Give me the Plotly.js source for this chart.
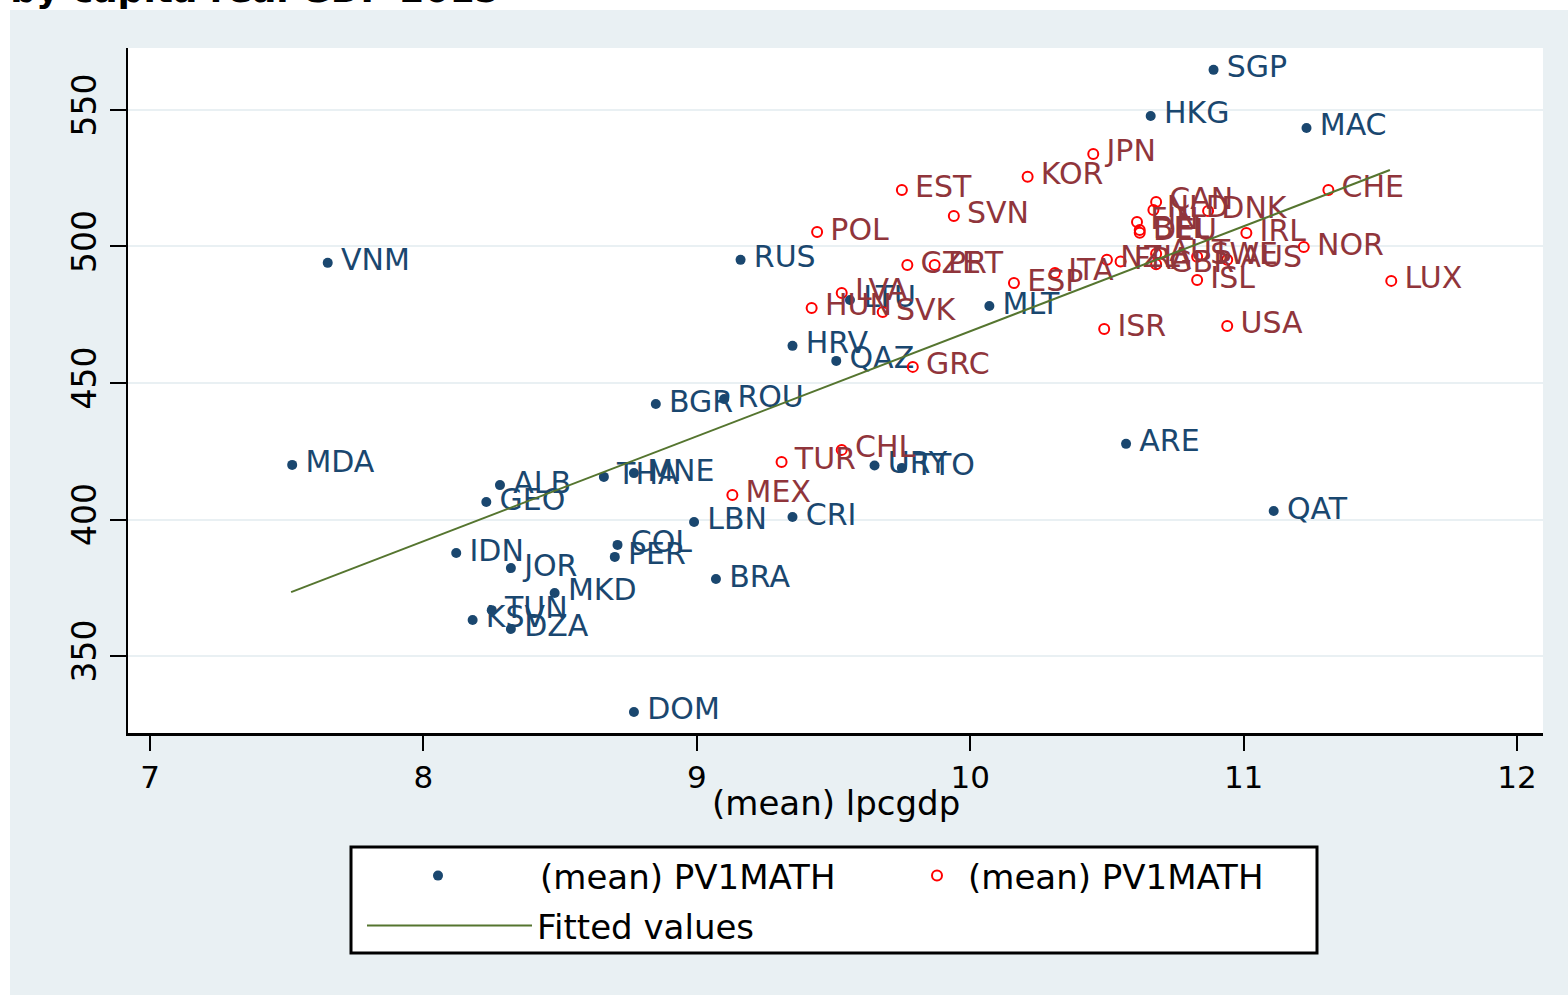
<!DOCTYPE html>
<html>
<head>
<meta charset="utf-8">
<script src="https://cdn.plot.ly/plotly-3.0.1.min.js"></script>
<style>
  html, body { margin: 0; padding: 0; background: #ffffff; }
  #chart { width: 1568px; height: 995px; }
</style>
</head>
<body>
<div id="chart"></div>
<script>
// ---- data ----
const nonOecdCodes = ["SGP","HKG","MAC","VNM","RUS","LTU","MLT","HRV","QAZ","ROU","BGR","ARE","MDA","URY","TTO","MNE","THA","ALB","GEO","QAT","CRI","LBN","COL","IDN","PER","JOR","BRA","MKD","TUN","KSV","DZA","DOM"];
const nonOecdLnGdp = [10.89,10.66,11.23,7.65,9.16,9.56,10.07,9.35,9.51,9.10,8.85,10.57,7.52,9.65,9.75,8.77,8.66,8.28,8.23,11.11,9.35,8.99,8.71,8.12,8.70,8.32,9.07,8.48,8.25,8.18,8.32,8.77];
const nonOecdMath  = [564.7,547.8,543.4,494.0,495.1,480.4,478.2,463.6,458.1,444.1,442.3,427.7,420.0,419.8,418.9,417.0,415.6,412.6,406.4,403.1,400.9,399.1,390.7,387.7,386.3,382.2,378.2,373.1,366.8,363.2,359.9,329.5];

const oecdCodes = ["JPN","KOR","CHE","EST","CAN","NLD","DNK","FIN","BEL","DEU","SVN","POL","IRL","NOR","AUT","SWE","NZL","AUS","FRA","GBR","CZE","PRT","ITA","ISL","ESP","LUX","LVA","HUN","SVK","ISR","USA","GRC","CHL","TUR","MEX"];
const oecdLnGdp = [10.45,10.21,11.31,9.75,10.68,10.67,10.87,10.61,10.62,10.62,9.94,9.44,11.01,11.22,10.68,10.83,10.50,10.94,10.55,10.68,9.77,9.87,10.31,10.83,10.16,11.54,9.53,9.42,9.68,10.49,10.94,9.79,9.53,9.31,9.13];
const oecdMath  = [533.9,525.5,520.7,520.7,516.3,513.4,513.0,509.0,506.0,505.0,511.2,505.3,504.9,499.8,497.3,496.2,495.1,495.1,494.5,493.5,493.2,493.2,490.3,487.7,486.6,487.4,483.0,477.5,476.0,469.8,470.9,455.9,425.5,421.1,409.0];

const fitX = [7.516, 11.535];
const fitY = [373.4, 528.0];

const xTickVals = [7, 8, 9, 10, 11, 12];
const yTickVals = [350, 400, 450, 500, 550];

const seriesNames = ["(mean) PV1MATH", "(mean) PV1MATH", "Fitted values"];
const xTitle = "(mean) lpcgdp";
const topTitle = "PISA 2015 math score by capita real GDP 2015";

// ---- geometry helpers (pixel -> paper) ----
const W = 1568, H = 995;
const L = 128, R = 25, T = 48, B = 262;
const pw = W - L - R, ph = H - T - B;
const px = x => (x - L) / pw;
const py = y => (H - B - y) / ph;

const NAVY = "#1a476f", RED = "#ff0000", MAROON = "#90353b", GREEN = "#55752f";
const BG = "#e9f0f3", GRID = "#e9f0f3";
const FONT = "DejaVu Sans";

const traces = [
  {
    type: "scatter", mode: "markers+text",
    x: nonOecdLnGdp, y: nonOecdMath, text: nonOecdCodes,
    texttemplate: "\u2009%{text}",
    name: seriesNames[0], legend: "legend",
    textposition: "middle right",
    textfont: { family: FONT, size: 30, color: NAVY },
    marker: { color: NAVY, size: 10, symbol: "circle" },
    cliponaxis: false, hoverinfo: "x+y+text"
  },
  {
    type: "scatter", mode: "markers+text",
    x: oecdLnGdp, y: oecdMath, text: oecdCodes,
    texttemplate: "\u2009%{text}",
    name: seriesNames[1], legend: "legend2",
    textposition: "middle right",
    textfont: { family: FONT, size: 30, color: MAROON },
    marker: { color: RED, size: 10, symbol: "circle-open", line: { width: 2, color: RED } },
    cliponaxis: false, hoverinfo: "x+y+text"
  },
  {
    type: "scatter", mode: "lines",
    x: fitX, y: fitY,
    name: seriesNames[2], legend: "legend3",
    line: { color: GREEN, width: 2 },
    hoverinfo: "x+y"
  }
];

const legendCommon = {
  orientation: "v", bgcolor: "rgba(0,0,0,0)", borderwidth: 0,
  font: { family: FONT, size: 34, color: "#000000" },
  xanchor: "left", yanchor: "middle", xref: "paper", yref: "paper"
};

const layout = {
  width: W, height: H,
  margin: { l: L, r: R, t: T, b: B, pad: 0 },
  paper_bgcolor: BG, plot_bgcolor: "#ffffff",
  font: { family: FONT, color: "#000000" },
  showlegend: true,
  xaxis: {
    range: [6.9195, 12.095],
    tickvals: xTickVals, ticktext: xTickVals.map(String),
    ticks: "outside", ticklen: 15, tickwidth: 2, tickcolor: "#000000",
    showline: true, linecolor: "#000000", linewidth: 2.5,
    showgrid: false, zeroline: false,
    tickfont: { family: FONT, size: 31, color: "#000000" },
    automargin: false
  },
  yaxis: {
    range: [321.8, 572.7],
    tickvals: yTickVals, ticktext: yTickVals.map(String),
    ticks: "outside", ticklen: 16, tickwidth: 2, tickcolor: "#000000",
    showline: true, linecolor: "#000000", linewidth: 2.5,
    showgrid: true, gridcolor: GRID, gridwidth: 2, zeroline: false,
    tickangle: -90,
    tickfont: { family: FONT, size: 33, color: "#000000" },
    automargin: false
  },
  legend:  Object.assign({}, legendCommon, { x: px(336), y: py(876), itemwidth: 194 }),
  legend2: Object.assign({}, legendCommon, { x: px(906), y: py(876), itemwidth: 52 }),
  legend3: Object.assign({}, legendCommon, { x: px(362), y: py(926), itemwidth: 165 }),
  shapes: [
    // white strips outside the grey graph region (left & top)
    { type: "rect", xref: "paper", yref: "paper", x0: px(0), x1: px(10), y0: py(H), y1: py(0),
      fillcolor: "#ffffff", line: { width: 0 }, layer: "below" },
    { type: "rect", xref: "paper", yref: "paper", x0: px(0), x1: px(W), y0: py(10), y1: py(0),
      fillcolor: "#ffffff", line: { width: 0 }, layer: "below" },
    // legend frame
    { type: "rect", xref: "paper", yref: "paper", x0: px(351), x1: px(1317), y0: py(953), y1: py(847),
      fillcolor: "#ffffff", line: { color: "#000000", width: 3 }, layer: "below" }
  ],
  annotations: [
    { text: "<b>" + topTitle + "</b>", xref: "paper", yref: "paper",
      x: px(502), y: py(12), xanchor: "right", yanchor: "bottom", showarrow: false,
      font: { family: FONT, size: 36, color: "#000000" } },
    { text: xTitle, xref: "paper", yref: "paper",
      x: 0.5, y: py(803), xanchor: "center", yanchor: "middle", showarrow: false,
      font: { family: FONT, size: 34, color: "#000000" } }
  ]
};

Plotly.newPlot("chart", traces, layout, { displayModeBar: false, staticPlot: true });
</script>
</body>
</html>
